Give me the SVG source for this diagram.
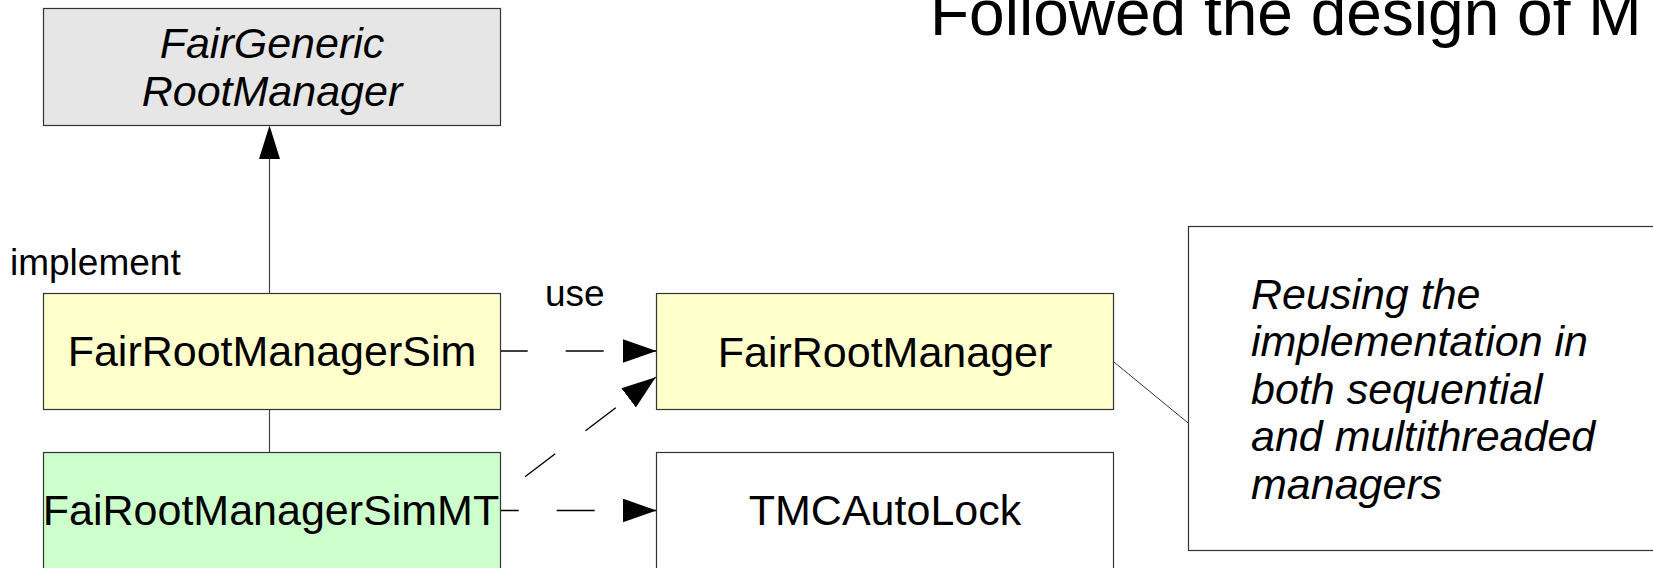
<svg xmlns="http://www.w3.org/2000/svg" width="1653" height="568" viewBox="0 0 1653 568">
  <style>
    .box { stroke: #333333; stroke-width: 1.2; }
    .lbl { font-family: "Liberation Sans", Arial, sans-serif; font-size: 43px; fill: #000; }
    .small { font-size: 37px; }
    .it { font-style: italic; }
    .dash { fill: none; stroke: #000; stroke-width: 1.4; stroke-dasharray: 38 38; }
    .solid { fill: none; stroke: #444444; stroke-width: 1.2; }
  </style>
  <defs>
    <marker id="arrow" markerUnits="userSpaceOnUse" markerWidth="34" markerHeight="24" refX="34" refY="12" orient="auto" viewBox="0 0 34 24">
      <path d="M0,0 L34,12 L0,24 Z" fill="#000"/>
    </marker>
  </defs>
  <rect width="1653" height="568" fill="#ffffff"/>

  <!-- title, partly running off the right edge -->
  <text x="930" y="35" font-family="Liberation Sans, Arial, sans-serif" font-size="64" fill="#000">Followed the design of M</text>

  <!-- connectors -->
  <g id="connectors">
    <!-- generalisation up to the abstract base -->
    <line class="solid" x1="269.5" y1="452.5" x2="269.5" y2="159"/>
    <path d="M259,159 L269.5,125.5 L280,159 Z" fill="#000"/>
    <!-- use relations -->
    <path class="dash" d="M500.7,351 L656.5,351" stroke-dashoffset="11" marker-end="url(#arrow)"/>
    <path class="dash" d="M525,476.7 L655.7,377.3" marker-end="url(#arrow)"/>
    <path class="dash" d="M500.7,510.5 L656.5,510.5" stroke-dashoffset="20" marker-end="url(#arrow)"/>
    <!-- note anchor -->
    <line x1="1113.5" y1="361.7" x2="1188.5" y2="423.3" stroke="#333333" stroke-width="1"/>
    <text class="lbl small" x="10" y="274.5">implement</text>
    <text class="lbl small" x="545" y="305.5">use</text>
  </g>

  <g id="FairGenericRootManager">
    <rect class="box" x="43.5" y="8.5" width="457" height="117" fill="#e6e6e6"/>
    <text class="lbl it" x="272" y="57.5" text-anchor="middle">FairGeneric</text>
    <text class="lbl it" x="272" y="106" text-anchor="middle">RootManager</text>
  </g>

  <g id="FairRootManagerSim">
    <rect class="box" x="43.5" y="293.5" width="457" height="116" fill="#ffffcc"/>
    <text class="lbl" x="272" y="366" text-anchor="middle">FairRootManagerSim</text>
  </g>

  <g id="FaiRootManagerSimMT">
    <rect class="box" x="43.5" y="452.5" width="457" height="130" fill="#ccffcc"/>
    <text class="lbl" x="271" y="525" text-anchor="middle">FaiRootManagerSimMT</text>
  </g>

  <g id="FairRootManager">
    <rect class="box" x="656.5" y="293.5" width="457" height="116" fill="#ffffcc"/>
    <text class="lbl" x="885" y="366.5" text-anchor="middle">FairRootManager</text>
  </g>

  <g id="TMCAutoLock">
    <rect class="box" x="656.5" y="452.5" width="457" height="130" fill="#ffffff"/>
    <text class="lbl" x="885" y="525" text-anchor="middle">TMCAutoLock</text>
  </g>

  <g id="note">
    <rect class="box" x="1188.5" y="226.5" width="500" height="324" fill="#ffffff"/>
    <text class="lbl it" x="1251">
      <tspan x="1251" y="308.5">Reusing the</tspan>
      <tspan x="1251" y="356">implementation in</tspan>
      <tspan x="1251" y="403.5">both sequential</tspan>
      <tspan x="1251" y="451">and multithreaded</tspan>
      <tspan x="1251" y="498.5">managers</tspan>
    </text>
  </g>
</svg>
